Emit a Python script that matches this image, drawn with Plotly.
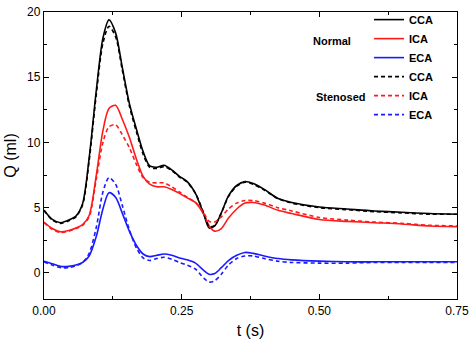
import plotly.graph_objects as go

t = [0, 0.015, 0.03, 0.045, 0.058, 0.07, 0.082, 0.095, 0.107, 0.118, 0.13, 0.142,
     0.155, 0.168, 0.18, 0.192, 0.205, 0.218, 0.232, 0.246, 0.26, 0.275, 0.29, 0.3,
     0.31, 0.322, 0.335, 0.35, 0.365, 0.38, 0.4, 0.425, 0.45, 0.5, 0.55, 0.6, 0.65,
     0.7, 0.75]

cca_normal = [4.8, 4.1, 3.85, 4.05, 4.35, 5.3, 8.8, 14.0, 18.0, 19.4, 18.4, 15.8,
              13.0, 11.0, 9.3, 8.2, 8.1, 8.25, 7.9, 7.4, 7.0, 6.1, 4.5, 3.45,
              3.6, 4.6, 5.9, 6.7, 7.0, 6.85, 6.4, 5.7, 5.4, 5.05, 4.9, 4.75, 4.65,
              4.55, 4.5]
ica_normal = [3.9, 3.4, 3.15, 3.25, 3.45, 3.7, 4.4, 7.5, 10.9, 12.6, 12.85, 11.8,
              10.4, 8.7, 7.4, 6.8, 6.6, 6.6, 6.4, 6.1, 5.75, 5.4, 4.5, 3.6,
              3.2, 3.4, 4.2, 4.9, 5.35, 5.4, 5.2, 4.8, 4.55, 4.1, 3.95, 3.85, 3.75,
              3.6, 3.55]
eca_normal = [0.9, 0.7, 0.5, 0.5, 0.6, 0.8, 1.3, 2.8, 4.9, 6.15, 5.8, 4.6,
              3.2, 2.1, 1.45, 1.25, 1.35, 1.45, 1.35, 1.15, 1.0, 0.75, 0.2, -0.1,
              -0.05, 0.4, 0.95, 1.35, 1.57, 1.5, 1.3, 1.1, 1.0, 0.9, 0.85, 0.85, 0.85,
              0.85, 0.85]
cca_stenosed = [4.8, 4.05, 3.8, 4.0, 4.3, 5.2, 8.6, 13.7, 17.6, 18.9, 18.1, 15.6,
                12.8, 10.8, 9.1, 8.1, 8.0, 8.15, 7.85, 7.35, 6.95, 6.1, 4.6, 3.55,
                3.65, 4.6, 5.85, 6.65, 6.95, 6.8, 6.35, 5.7, 5.35, 5.0, 4.85, 4.7, 4.6,
                4.5, 4.5]
ica_stenosed = [3.85, 3.35, 3.1, 3.2, 3.4, 3.65, 4.3, 7.2, 10.0, 11.2, 11.35, 10.6,
                9.6, 8.3, 7.3, 6.95, 6.9, 6.9, 6.6, 6.2, 5.8, 5.4, 4.6, 3.95,
                3.9, 4.3, 4.9, 5.35, 5.55, 5.55, 5.35, 5.0, 4.75, 4.25, 4.05, 3.9, 3.8,
                3.65, 3.6]
eca_stenosed = [0.85, 0.6, 0.4, 0.4, 0.55, 0.8, 1.5, 3.5, 6.2, 7.3, 6.8, 5.2,
                3.3, 1.9, 1.15, 0.95, 1.1, 1.2, 1.05, 0.8, 0.6, 0.3, -0.4, -0.7,
                -0.6, -0.1, 0.6, 1.1, 1.3, 1.3, 1.1, 0.9, 0.8, 0.75, 0.75, 0.8, 0.8,
                0.8, 0.8]

x_tick_vals = [0, 0.25, 0.5, 0.75]
x_tick_text = ["0.00", "0.25", "0.50", "0.75"]
y_tick_vals = [0, 5, 10, 15, 20]

series = [
    ("CCA", cca_normal, "black", "solid"),
    ("ICA", ica_normal, "#ff1a1a", "solid"),
    ("ECA", eca_normal, "#1a1aff", "solid"),
    ("CCA", cca_stenosed, "black", "4px,3px"),
    ("ICA", ica_stenosed, "#ff1a1a", "4px,3px"),
    ("ECA", eca_stenosed, "#1a1aff", "4px,3px"),
]

FONT = "Arial, Liberation Sans"

fig = go.Figure()
for name, vals, color, dash in series:
    fig.add_trace(go.Scatter(
        x=t, y=vals, mode="lines", name=name,
        line=dict(color=color, width=1.6, dash=dash, shape="spline", smoothing=0.8),
    ))

axis_common = dict(
    showline=True, linecolor="black", linewidth=1.3, mirror="ticks",
    ticks="inside", ticklen=5, tickwidth=1.2, tickcolor="black",
    showgrid=False, zeroline=False, ticklabeloverflow="allow",
    tickfont=dict(family=FONT, size=12, color="black"),
)

fig.update_xaxes(
    range=[0, 0.75], tickvals=x_tick_vals, ticktext=x_tick_text,
    minor=dict(tickvals=[0.125, 0.375, 0.625], ticks="inside", ticklen=3,
               tickcolor="black", tickwidth=1.2),
    title=dict(text="t (s)", font=dict(family=FONT, size=16, color="black"), standoff=8),
    **axis_common,
)
fig.update_yaxes(
    range=[-2, 20], tickvals=y_tick_vals,
    minor=dict(tickvals=[2.5, 7.5, 12.5, 17.5], ticks="inside", ticklen=3,
               tickcolor="black", tickwidth=1.2),
    title=dict(text="Q (ml)", font=dict(family=FONT, size=16, color="black"), standoff=6),
    **axis_common,
)

fig.update_layout(
    width=474, height=344,
    margin=dict(l=44, r=14, t=5, b=45),
    paper_bgcolor="white", plot_bgcolor="white",
    showlegend=True,
    legend=dict(x=0.787, y=1.024, xanchor="left", yanchor="top",
                bgcolor="rgba(0,0,0,0)", tracegroupgap=0,
                font=dict(family=FONT, size=11, color="black", weight="bold")),
    annotations=[
        dict(text="<b>Normal</b>", xref="paper", yref="paper", x=0.697, y=0.9,
             xanchor="center", yanchor="middle", showarrow=False,
             font=dict(family=FONT, size=11, color="black")),
        dict(text="<b>Stenosed</b>", xref="paper", yref="paper", x=0.72, y=0.705,
             xanchor="center", yanchor="middle", showarrow=False,
             font=dict(family=FONT, size=11, color="black")),
    ],
)

fig.write_html("out.html")
